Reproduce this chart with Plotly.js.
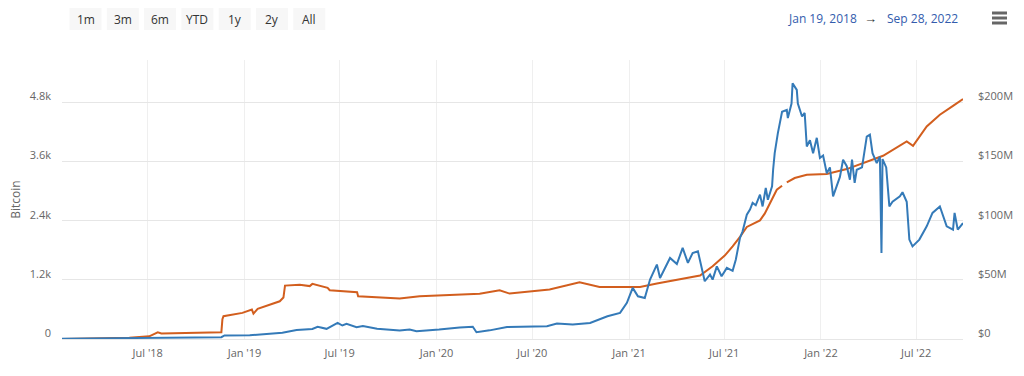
<!DOCTYPE html>
<html>
<head>
<meta charset="utf-8">
<script src="https://cdn.plot.ly/plotly-3.0.1.min.js"></script>
<style>
  html, body { margin: 0; padding: 0; background: #ffffff; }
  #chart { width: 1024px; height: 376px; }
</style>
</head>
<body>
<div id="chart"></div>
<script>
// ---------- data ----------
const orangeDates = [
  '2018-01-19','2018-03-31','2018-05-27','2018-07-04','2018-07-14','2018-07-20','2018-07-27','2018-09-19',
  '2018-11-18','2018-11-20','2018-11-22','2018-12-28','2019-01-11','2019-01-15','2019-01-18','2019-01-26',
  '2019-03-09','2019-03-16','2019-03-19','2019-04-16','2019-05-05','2019-05-10','2019-06-08','2019-06-12',
  '2019-08-03','2019-08-05','2019-10-23','2019-11-30','2020-01-26','2020-03-23','2020-04-30','2020-05-19',
  '2020-08-03','2020-09-29','2020-11-06','2021-01-22','2021-02-23','2021-04-08','2021-05-16','2021-06-09',
  '2021-07-02','2021-07-17','2021-07-31','2021-08-13','2021-09-07','2021-09-16','2021-09-26','2021-10-09',
  '2021-10-19','2021-10-22','2021-10-28','2021-11-12','2021-12-05','2022-01-12','2022-02-19','2022-03-29',
  '2022-04-29','2022-06-13','2022-06-25','2022-07-21','2022-08-15','2022-09-09','2022-09-28'
];
const orangeBtc = [
  0, 12, 25, 55, 95, 135, 112, 120,
  138, 400, 462, 530, 570, 597, 516, 610,
  765, 840, 1083, 1100, 1073, 1118, 1037, 988,
  948, 867, 820, 867, 890, 920, 988, 921,
  1002, 1150, 1057, 1057, 1124, 1205, 1286, 1474,
  1691, 1879, 2070, 2272, 2406, 2541, 2758, 3027,
  3108, null, 3175, 3264, 3331, 3345, 3446, 3600,
  3716, 4006, 3918, 4310, 4547, 4729, 4865
];

const blueDates = [
  '2018-01-19','2018-07-04','2018-11-18','2018-11-24','2019-01-11','2019-03-14','2019-04-10','2019-05-10',
  '2019-05-20','2019-06-06','2019-06-27','2019-07-06','2019-07-14','2019-08-02','2019-08-14','2019-09-10',
  '2019-10-23','2019-11-11','2019-11-24','2020-01-06','2020-02-14','2020-03-10','2020-03-17','2020-04-11',
  '2020-05-14','2020-07-29','2020-08-17','2020-09-16','2020-10-19','2020-11-21','2020-12-15','2020-12-28',
  '2021-01-08','2021-01-18','2021-01-31','2021-02-10','2021-02-23','2021-03-01','2021-03-20','2021-04-02',
  '2021-04-13','2021-04-23','2021-05-02','2021-05-12','2021-05-18','2021-05-25','2021-06-04','2021-06-09',
  '2021-06-17','2021-06-26','2021-07-06','2021-07-17','2021-07-23','2021-07-31','2021-08-05','2021-08-13',
  '2021-08-19','2021-08-24','2021-08-30','2021-09-07','2021-09-12','2021-09-18','2021-09-22','2021-09-30',
  '2021-10-02','2021-10-05','2021-10-11','2021-10-19','2021-10-28','2021-10-30','2021-11-06','2021-11-08',
  '2021-11-16','2021-11-18','2021-11-26','2021-12-01','2021-12-05','2021-12-11','2021-12-17','2021-12-24',
  '2021-12-30','2022-01-05','2022-01-12','2022-01-18','2022-01-24','2022-01-31','2022-02-06','2022-02-12',
  '2022-02-19','2022-02-25','2022-03-01','2022-03-06','2022-03-10','2022-03-20','2022-03-29','2022-04-04',
  '2022-04-09','2022-04-17','2022-04-23','2022-04-26','2022-04-28','2022-05-05','2022-05-11','2022-05-17',
  '2022-05-31','2022-06-05','2022-06-13','2022-06-18','2022-06-24','2022-07-07','2022-07-21','2022-08-01',
  '2022-08-15','2022-08-28','2022-09-09','2022-09-12','2022-09-18','2022-09-28'
];
const blueUsdM = [
  0.3, 0.8, 1.5, 3.0, 3.2, 5.2, 7.6, 8.5,
  10.3, 8.6, 13.7, 11.4, 12.8, 10.0, 10.9, 8.6,
  7.2, 8.0, 6.6, 8.0, 9.8, 10.3, 5.7, 7.3,
  10.1, 10.8, 13.1, 12.2, 13.5, 19.2, 22.1, 30.5,
  43.2, 36.1, 34.6, 50.2, 62.9, 51.6, 68.5, 63.3,
  77.0, 64.3, 72.7, 74.1, 62.9, 48.8, 54.4, 50.2,
  61.4, 53.0, 60.1, 57.6, 67.0, 85.4, 91.0, 105.0,
  109.3, 115.0, 113.0, 122.0, 112.0, 127.6, 117.7, 129.0,
  143.0, 157.0, 174.0, 192.0, 193.6, 186.7, 199.0, 216.0,
  210.5, 199.0, 188.0, 191.0, 162.7, 168.0, 157.0, 170.0,
  153.0, 155.0, 140.0, 145.0, 120.5, 130.0, 137.0, 151.5,
  146.0, 134.6, 151.5, 132.0, 143.0, 145.0, 171.0, 172.6,
  157.0, 148.7, 154.0, 72.7, 152.0, 145.0, 112.0, 116.0,
  120.5, 124.0, 116.0, 84.0, 78.3, 84.0, 95.2, 106.5,
  112.0, 95.2, 92.4, 106.5, 92.4, 98.0
];

const xTickVals = ['2018-07-01','2019-01-01','2019-07-01','2020-01-01','2020-07-01','2021-01-01','2021-07-01','2022-01-01','2022-07-01'];
const xTickText = ["Jul '18","Jan '19","Jul '19","Jan '20","Jul '20","Jan '21","Jul '21","Jan '22","Jul '22"];
const leftTickVals = [0, 1200, 2400, 3600, 4800];
const leftTickText = ['0', '1.2k', '2.4k', '3.6k', '4.8k'];
const rightTickVals = [0, 50, 100, 150, 200];
const rightTickText = ['$0', '$50M', '$100M', '$150M', '$200M'];
const rangeButtons = ['1m', '3m', '6m', 'YTD', '1y', '2y', 'All'];
const rangeStart = 'Jan 19, 2018';
const rangeEnd = 'Sep 28, 2022';
const leftTitle = 'Bitcoin';

// ---------- layout geometry ----------
const W = 1024, H = 376;
const M = { l: 62, r: 61, t: 60, b: 37 };
const PW = W - M.l - M.r, PH = H - M.t - M.b;
const px = x => (x - M.l) / PW;          // pixel -> paper x
const py = y => (H - M.b - y) / PH;      // pixel -> paper y
const FONT = '"Open Sans", "Noto Sans", sans-serif';

const shapes = [];
const annotations = [];

// range selector buttons (drawn)
rangeButtons.forEach((label, i) => {
  const x0 = 69.5 + 37.3 * i, x1 = x0 + 32;
  shapes.push({ type: 'rect', xref: 'paper', yref: 'paper', x0: px(x0), x1: px(x1), y0: py(30), y1: py(8),
    fillcolor: '#f7f7f7', line: { width: 0 }, layer: 'above' });
  annotations.push({ xref: 'paper', yref: 'paper', x: px(x0 + 16), y: py(19), text: label, showarrow: false,
    xanchor: 'center', yanchor: 'middle', font: { family: FONT, size: 12, color: '#333333' } });
});

// date range display
annotations.push({ xref: 'paper', yref: 'paper', x: px(822), y: py(18.5), text: rangeStart, showarrow: false,
  xanchor: 'center', yanchor: 'middle', font: { family: FONT, size: 12, color: '#335cad' } });
annotations.push({ xref: 'paper', yref: 'paper', x: px(870.5), y: py(18), text: '→', showarrow: false,
  xanchor: 'center', yanchor: 'middle', font: { family: FONT, size: 13, color: '#333333' } });
annotations.push({ xref: 'paper', yref: 'paper', x: px(922.5), y: py(18.5), text: rangeEnd, showarrow: false,
  xanchor: 'center', yanchor: 'middle', font: { family: FONT, size: 12, color: '#335cad' } });

// hamburger menu icon
[13, 18, 23].forEach(y => {
  shapes.push({ type: 'line', xref: 'paper', yref: 'paper', x0: px(992), x1: px(1007), y0: py(y), y1: py(y),
    line: { color: '#666666', width: 3 }, layer: 'above' });
});

const traces = [
  {
    x: blueDates, y: blueUsdM, type: 'scatter', mode: 'lines', yaxis: 'y2', name: 'USD value',
    line: { color: '#347ab8', width: 2 }, hoverinfo: 'x+y'
  },
  {
    x: orangeDates, y: orangeBtc, type: 'scatter', mode: 'lines', yaxis: 'y', name: 'Bitcoin',
    line: { color: '#d25e1e', width: 2 }, connectgaps: false, hoverinfo: 'x+y'
  }
];

const yMaxLeft = 5658;
const layout = {
  width: W, height: H,
  margin: M,
  paper_bgcolor: '#ffffff', plot_bgcolor: '#ffffff',
  showlegend: false,
  font: { family: FONT, size: 11, color: '#666666' },
  xaxis: {
    type: 'date', range: ['2018-01-19', '2022-09-28'],
    tickvals: xTickVals, ticktext: xTickText,
    showgrid: true, gridcolor: '#efefef', gridwidth: 1,
    showline: true, linecolor: '#e6e6e6', linewidth: 1,
    zeroline: false, ticks: '', ticklabelstandoff: 4,
    tickfont: { family: FONT, size: 11, color: '#666666' },
    fixedrange: true
  },
  yaxis: {
    range: [0, yMaxLeft],
    tickvals: leftTickVals, ticktext: leftTickText,
    showgrid: true, gridcolor: '#e6e6e6', gridwidth: 1,
    zeroline: false, showline: false, ticks: '',
    ticklabelstandoff: 10, ticklabelshift: -6,
    tickfont: { family: FONT, size: 11, color: '#666666' },
    title: { text: leftTitle, font: { family: FONT, size: 12, color: '#666666' }, standoff: 6 },
    automargin: false, fixedrange: true
  },
  yaxis2: {
    overlaying: 'y', side: 'right',
    range: [0, yMaxLeft / 4800 * 200],
    tickvals: rightTickVals, ticktext: rightTickText,
    showgrid: false, zeroline: false, showline: false, ticks: '',
    ticklabelstandoff: 14, ticklabelshift: -6,
    tickfont: { family: FONT, size: 11, color: '#666666' },
    automargin: false, fixedrange: true
  },
  shapes: shapes,
  annotations: annotations
};

Plotly.newPlot('chart', traces, layout, { displayModeBar: false, staticPlot: false, responsive: false });
</script>
</body>
</html>
